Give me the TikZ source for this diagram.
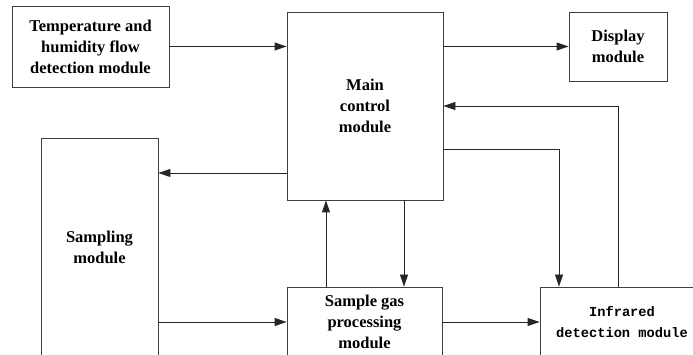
\documentclass[tikz,border=0pt]{standalone}
\usepackage{fontspec}
\setmainfont{Liberation Serif}
\newfontfamily\irfont{Liberation Mono}
\usetikzlibrary{arrows.meta, positioning}

\begin{document}
\begin{tikzpicture}[x=1pt, y=-1pt,
    box/.style={draw=black!75, line width=0.9pt, rectangle, align=center,
        font=\fontsize{16.5}{21}\selectfont\bfseries, inner sep=0pt},
    arr/.style={draw=black!85, line width=0.9pt, -{Triangle[length=12pt, width=8pt]}}]
                \useasboundingbox (0,0) rectangle (693,355);
                \clip (0,0) rectangle (693,355);
                \fill[white] (0,0) rectangle (693,355);

                \node[box, minimum width=157pt, minimum height=81pt] (temp) at (90.5,46.5) {Temperature and\\humidity flow\\detection module};
                \node[box, minimum width=156pt, minimum height=188pt] (main) at (365,106) {Main\\control\\module};
                \node[box, minimum width=98pt, minimum height=69pt] (disp) at (618,46.5) {Display\\module};
                \node[box, minimum width=117pt, minimum height=218pt] (samp) at (99.5,247) {Sampling\\module};
                \node[box, minimum width=155pt, minimum height=70pt] (gas) at (364.5,322) {Sample gas\\processing\\module};
                \node[box, minimum width=164pt, minimum height=70pt,
                    font=\irfont\bfseries\fontsize{13.7}{21.5}\selectfont] (ir) at (622,322) {Infrared\\detection module};

                \draw[arr] (temp.east) -- (temp.east -| main.west);
                \draw[arr] (main.east |- disp) -- (disp.west);
                \draw[arr] ([yshift=-67pt]main.west) -- ([yshift=-67pt]main.west -| samp.east);
                \draw[arr] (samp.east |- gas) -- (gas.west);
                \draw[arr] (gas.east) -- (ir.west |- gas);
                \draw[arr] ([xshift=39pt]main.south) -- ([xshift=39pt]main.south |- gas.north);
                \draw[arr] ([xshift=-38.5pt]gas.north) -- ([xshift=-38.5pt]gas.north |- main.south);
                \draw[arr] ([yshift=-43pt]main.east) -| ([xshift=-63pt]ir.north);
                \draw[arr] ([xshift=-4pt]ir.north) |- (main.east);
            \end{tikzpicture}
\end{document}
